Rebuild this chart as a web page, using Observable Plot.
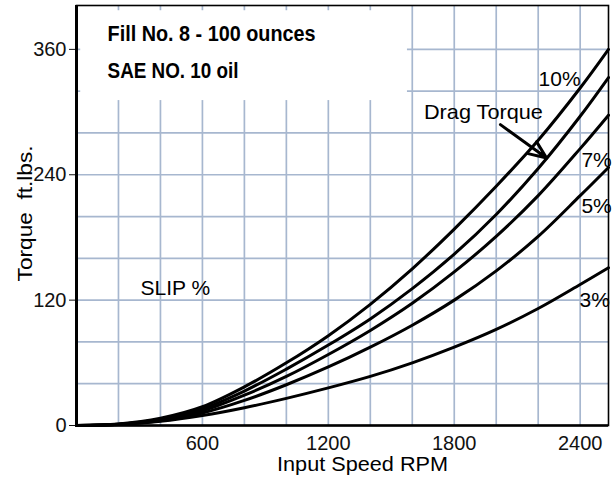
<!DOCTYPE html>
<html><head><meta charset="utf-8">
<script src="https://cdn.jsdelivr.net/npm/d3@7"></script>
<script src="https://cdn.jsdelivr.net/npm/@observablehq/plot@0.6"></script>
<style>body{margin:0;background:#fff;}</style>
</head><body><div id="chart"></div>
<script>
const rpm    = [0, 200, 400, 600, 800, 1000, 1200, 1400, 1600, 1800, 2000, 2200, 2400, 2535];
const slip10 = [0, 1.5, 7, 18, 37, 60, 86, 116, 150, 188, 229, 273, 323, 360];
const drag   = [0, 1.3, 6, 16, 33, 54, 77, 102, 131, 164, 202, 246, 296, 333];
const slip7  = [0, 1.2, 5, 14, 29, 47, 68, 91, 117, 147, 181, 220, 265, 297];
const slip5  = [0, 1, 4.5, 12, 24, 39, 56, 75, 96, 120, 148, 181, 220, 247];
const slip3  = [0, 1, 4, 9.5, 17, 26, 36, 47, 60, 75, 92, 112, 135, 151];
const xTicks = [600, 1200, 1800, 2400];
const yTicks = [0, 120, 240, 360];
const xGrid  = [200, 400, 600, 800, 1000, 1200, 1400, 1600, 1800, 2000, 2200, 2400];
const yGrid  = [40, 80, 120, 160, 200, 240, 280, 320, 360];

const seriesNames = ["10%", "Drag", "7%", "5%", "3%"];
const seriesVals = [slip10, drag, slip7, slip5, slip3];
const rows = [];
seriesVals.forEach((vals, i) => vals.forEach((v, j) => rows.push({series: seriesNames[i], rpm: rpm[j], torque: v})));

const FONT = "'Liberation Sans', Arial, Helvetica, sans-serif";
const GRID = "#a7b7cf";
const boxX = 1577, boxY = 311;

const chart = Plot.plot({
  width: 613, height: 479,
  marginLeft: 76, marginTop: 5, marginRight: 5, marginBottom: 54,
  style: {fontSize: "20px", fontFamily: FONT, color: "#111", background: "white"},
  x: {domain: [0, 2535], ticks: xTicks, tickSize: 0, tickPadding: 10, label: null, tickFormat: d => String(d)},
  y: {domain: [0, 402], ticks: yTicks, tickSize: 7, tickPadding: 3, label: null},
  marks: [
    Plot.ruleX(xGrid, {stroke: GRID, strokeWidth: 1.7}),
    Plot.ruleY(yGrid, {stroke: GRID, strokeWidth: 1.7}),
    Plot.rect([{x1: 0, x2: boxX, y1: boxY, y2: 402}], {x1: "x1", x2: "x2", y1: "y1", y2: "y2", fill: "white", inset: 0}),
    Plot.ruleX(xGrid.filter(d => d < boxX), {y1: 402, y2: 397, stroke: GRID, strokeWidth: 1.7}),
    Plot.ruleY(yGrid.filter(d => d > boxY), {x1: 0, x2: 20, stroke: GRID, strokeWidth: 1.7}),
    Plot.line(rows, {x: "rpm", y: "torque", z: "series", stroke: "black", strokeWidth: 3, curve: "catmull-rom"}),
    Plot.frame({stroke: "black", strokeWidth: 1.6}),
    Plot.ruleX([0], {stroke: "black", strokeWidth: 3}),
    Plot.ruleY([0], {stroke: "black", strokeWidth: 2.5}),
    Plot.arrow([{x1: 2020, y1: 288, x2: 2240, y2: 256}], {x1: "x1", y1: "y1", x2: "x2", y2: "y2", stroke: "black", strokeWidth: 3, headLength: 13, headAngle: 45}),
    Plot.text(["Fill No. 8 - 100 ounces"], {x: 148, y: 375, text: d => d, textAnchor: "start", fontWeight: "bold", fontSize: 22, fill: "black"}),
    Plot.text(["SAE NO. 10 oil"], {x: 148, y: 339.5, text: d => d, textAnchor: "start", fontWeight: "bold", fontSize: 22, fill: "black"}),
    Plot.text(["SLIP %"], {x: 305, y: 131, text: d => d, textAnchor: "start", fontSize: 21, fill: "black"}),
    Plot.text(["Drag Torque"], {x: 1939, y: 300, text: d => d, fontSize: 21, fill: "black"}),
    Plot.text(["10%"], {x: 2202, y: 331, text: d => d, textAnchor: "start", fontSize: 21, fill: "black"}),
    Plot.text(["7%"], {x: 2406, y: 254, text: d => d, textAnchor: "start", fontSize: 21, fill: "black"}),
    Plot.text(["5%"], {x: 2406, y: 210, text: d => d, textAnchor: "start", fontSize: 21, fill: "black"}),
    Plot.text(["3%"], {x: 2397, y: 120, text: d => d, textAnchor: "start", fontSize: 21, fill: "black"}),
    Plot.text(["Input Speed RPM"], {x: 1363, y: 0, dy: 39, text: d => d, fontSize: 21, fill: "black"}),
    Plot.text(["Torque  ft.lbs."], {x: 0, y: 203, dx: -51, text: d => d, rotate: -90, fontSize: 21, fill: "black"})
  ]
});
const stretch = {"Fill No. 8 - 100 ounces": 208, "SAE NO. 10 oil": 131, "Torque  ft.lbs.": 136, "Input Speed RPM": 171, "Drag Torque": 119};
d3.select(chart).selectAll("text").each(function() {
  const w = stretch[this.textContent];
  if (w) { this.setAttribute("textLength", w); this.setAttribute("lengthAdjust", "spacingAndGlyphs"); }
});
document.getElementById("chart").appendChild(chart);
</script>
</body></html>
